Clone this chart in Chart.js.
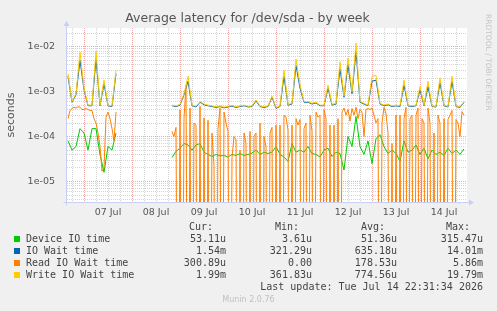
<!DOCTYPE html>
<html>
<head>
<meta charset="utf-8">
<script src="https://cdn.jsdelivr.net/npm/chart.js@4.4.1/dist/chart.umd.min.js"></script>
<style>
  body { margin: 0; background: #f0f0f0; }
  #wrap { position: relative; width: 497px; height: 311px; overflow: hidden; }
  #chart { position: absolute; left: 0; top: 0; }
  .t { position: absolute; white-space: pre; }
  .title { left: 0; width: 495px; top: 10px; text-align: center; font: 12.5px "DejaVu Sans", sans-serif; color: #555; }
  .side { right: 4px; top: 14px; writing-mode: vertical-rl; font: 7.5px "DejaVu Sans", sans-serif; color: #c4c4c4; }
  .leg { font: 10px "DejaVu Sans Mono", monospace; color: #444; line-height: 12px; }
  .sq { position: absolute; width: 6px; height: 6px; left: 14px; }
  .munin { left: 0; width: 497px; text-align: center; top: 295px; font: 8px "DejaVu Sans", sans-serif; color: #c0c0c0; }
</style>
</head>
<body>
<div id="wrap">
  <canvas id="chart" width="497" height="311"></canvas>
  <div class="t title">Average latency for /dev/sda - by week</div>
  <div class="t side">RRDTOOL / TOBI OETIKER</div>
  <div id="legend"></div>
  <div class="t munin">Munin 2.0.76</div>
</div>
<script>
// hours since 06 Jul 00:00; device/wait series every 2 h, read series every 1 h
const hours = Array.from({ length: 100 }, (_, i) => 16 + 2 * i);
const readHours = Array.from({ length: 199 }, (_, i) => 16 + i);

const seriesNames = ['Device IO time', 'IO Wait time', 'Read IO Wait time', 'Write IO Wait time'];
const seriesColors = ['#00cc00', '#0066b3', '#ff8000', '#ffcc00'];

const gap = Array(13).fill(null);
const readGap = Array(27).fill(null);

const deviceIO = [
    8e-5, 5e-5, 6e-5, 1.5e-4, 1.2e-4, 5e-5, 1.5e-4, 1.5e-4, 4e-5, 1.6e-5, 6e-5, 5e-5, 1.2e-4,
    ...gap,
    3.4e-5, 4.7e-5, 5.5e-5, 7e-5, 6.5e-5, 5e-5, 6.5e-5, 7e-5, 4.5e-5, 4e-5, 3.6e-5, 4e-5,
    3.7e-5, 3.8e-5, 3.5e-5, 4e-5, 3.8e-5, 4.2e-5, 3.8e-5, 4e-5, 4.3e-5, 5e-5, 4e-5, 4.5e-5,
    4.2e-5, 4.5e-5, 6e-5, 4e-5, 3.5e-5, 2.8e-5, 7e-5, 4.5e-5, 5e-5, 4.5e-5, 6e-5, 4.2e-5, 4e-5,
    3.5e-5, 5e-5, 5.5e-5, 3.6e-5, 4.5e-5, 4.2e-5, 1.8e-5, 1e-4, 6e-5, 2.8e-4, 6e-5, 4e-5,
    8e-5, 2.5e-5, 9e-5, 1.1e-4, 6e-5, 4.2e-5, 5e-5, 4.2e-5, 2.8e-5, 8e-5, 4.5e-5, 5e-5, 6.5e-5,
    4e-5, 5.5e-5, 3.2e-5, 5e-5, 4e-5, 4.5e-5, 3.8e-5, 5.5e-5, 4.2e-5, 5e-5, 4e-5, 5.3e-5
];

const ioWait = [
    2.2e-3, 5.8e-4, 8.5e-4, 5e-3, 1.1e-3, 4.85e-4, 4.85e-4, 5.5e-3, 4.85e-4, 1.5e-3, 4.85e-4, 4.65e-4, 2.5e-3,
    ...gap,
    4.85e-4, 4.65e-4, 5e-4, 8.5e-4, 1.7e-3, 4.85e-4, 4.55e-4, 5.8e-4, 5.1e-4, 4.85e-4, 4.65e-4, 4.45e-4,
    4.65e-4, 4.35e-4, 4.55e-4, 4.75e-4, 4.45e-4, 4.65e-4, 4.85e-4, 4.55e-4, 4.65e-4, 6.2e-4, 4.65e-4, 4.45e-4,
    4.65e-4, 7.5e-4, 4.25e-4, 4.65e-4, 2.2e-3, 5e-4, 5.3e-4, 3.8e-3, 1.2e-3, 5.8e-4, 5.8e-4, 5.3e-4, 5.6e-4,
    4.85e-4, 4.85e-4, 1.2e-3, 5e-4, 5.3e-4, 3.2e-3, 7.5e-4, 4e-3, 9e-4, 8e-3, 5.8e-4, 5.3e-4,
    4.85e-4, 1.7e-3, 1.8e-3, 5.3e-4, 4.85e-4, 5.1e-4, 4.65e-4, 4.85e-4, 4.65e-4, 1.4e-3, 4.85e-4, 4.65e-4, 4.85e-4,
    1.1e-3, 4.85e-4, 1.3e-3, 4.65e-4, 4.55e-4, 1.6e-3, 4.85e-4, 4.55e-4, 1.7e-3, 4.65e-4, 4.45e-4, 5.8e-4
];

// hourly; 0 = no read wait in that interval (drawn down through the bottom edge)
const readIO = [
    2.5e-4, 3.8e-4, 4.2e-4, 4.5e-4, 4.3e-4, 4.6e-4, 4.5e-4, 4e-4, 4e-4, 4.2e-4, 4e-4, 3.8e-4, 3.8e-4,
    2.5e-4, 2e-4, 1.2e-4, 6e-5, 1.7e-5, 2e-5, 2.7e-4, 3.5e-4, 2.5e-4, 1.5e-4, 8e-5, 3.5e-4,
    ...readGap,
    1.3e-4, 1e-4, 1.6e-4, 0, 3.9e-4, 0, 2.5e-4, 1.4e-3, 0, 4.3e-4,
    0, 2e-4, 1.8e-4, 0, 4.7e-4, 0, 2.6e-4, 0, 2.3e-4, 0,
    1.2e-4, 2.3e-5, 0, 1.5e-4, 4.3e-4, 0, 3.5e-4, 2e-4, 1.3e-4, 0,
    3.4e-5, 1e-4, 8.5e-5, 0, 5e-5, 0, 1.2e-4, 7e-5, 0, 1.3e-4,
    0, 1e-4, 1.2e-4, 0, 2e-4, 0, 1e-4,
    6e-5, 0, 1.2e-4, 1.6e-4, 0, 1.8e-4, 0, 1.8e-4, 0, 3e-4,
    2.7e-4, 1.4e-4, 0, 1.8e-4, 0, 2.5e-4, 1.8e-4, 2.4e-4, 0, 1.5e-4,
    2e-4, 0, 3e-4, 1.3e-4, 0, 3.5e-4, 2.7e-4, 3e-4, 0, 4e-4,
    2.5e-4, 0, 1.8e-4, 0, 1.8e-4, 0, 2.5e-4, 0, 3.5e-4, 4.3e-4,
    3e-4, 4e-4, 2.2e-4, 4.2e-4, 3e-4, 4.5e-4, 2.5e-4, 4e-4, 3.5e-4, 1e-4,
    4e-4, 4.2e-4, 4e-4, 4.3e-4, 3e-4, 2e-4, 2.5e-4, 0, 2e-4, 4.5e-4,
    3.2e-4, 1.2e-4, 0, 7e-5, 0, 3e-4, 0, 3e-4, 0, 2.5e-4,
    4.5e-4, 0, 2.5e-4, 3e-4, 0, 3e-4, 4.3e-4, 0, 2.5e-4, 2e-4,
    0, 4.3e-4, 2e-4, 0, 1.2e-4, 0, 3e-4, 2e-4, 0, 2.5e-4,
    0, 2.4e-4, 3e-4, 3.8e-4, 0, 2.4e-4, 2e-4, 1e-4, 3.6e-4, 3e-4
];

const writeIO = [
    2.5e-3, 6e-4, 9e-4, 7.5e-3, 1.2e-3, 5e-4, 5e-4, 8e-3, 5e-4, 1.8e-3, 5e-4, 4.8e-4, 3e-3,
    ...gap,
    5e-4, 4.8e-4, 5.2e-4, 9e-4, 2.2e-3, 5e-4, 4.7e-4, 6e-4, 5.3e-4, 5e-4, 4.8e-4, 4.6e-4,
    4.8e-4, 4.5e-4, 4.7e-4, 4.9e-4, 4.6e-4, 4.8e-4, 5e-4, 4.7e-4, 4.8e-4, 6.5e-4, 4.8e-4, 4.6e-4,
    4.8e-4, 8e-4, 4.4e-4, 4.8e-4, 3e-3, 5.2e-4, 5.5e-4, 5.3e-3, 1.4e-3, 6e-4, 6e-4, 5.5e-4, 5.8e-4,
    5e-4, 5e-4, 1.4e-3, 5.2e-4, 5.5e-4, 4.6e-3, 8e-4, 5.6e-3, 1e-3, 1.2e-2, 6e-4, 5.5e-4,
    5e-4, 2.2e-3, 2.3e-3, 5.5e-4, 5e-4, 5.3e-4, 4.8e-4, 5e-4, 4.8e-4, 1.8e-3, 5e-4, 4.8e-4, 5e-4,
    1.3e-3, 5e-4, 1.7e-3, 4.8e-4, 4.7e-4, 2e-3, 5e-4, 4.7e-4, 2.2e-3, 4.8e-4, 4.6e-4, 6e-4
];

// legend table (cur, min, avg, max)
const legendCur = ['53.11u', '1.54m', '300.89u', '1.99m'];
const legendMin = ['3.61u', '321.29u', '0.00', '361.83u'];
const legendAvg = ['51.36u', '635.18u', '178.53u', '774.56u'];
const legendMax = ['315.47u', '14.01m', '5.86m', '19.79m'];
const lastUpdate = 'Last update: Tue Jul 14 22:31:34 2026';

// axis ticks
const yDecades = [1e-5, 1e-4, 1e-3, 1e-2];
const yTickLabels = ['1e-05', '1e-04', '1e-03', '1e-02'];
const xDayNoon = [36, 60, 84, 108, 132, 156, 180, 204];
const xDayLabels = ['07 Jul', '08 Jul', '09 Jul', '10 Jul', '11 Jul', '12 Jul', '13 Jul', '14 Jul'];

const MAJOR = 'rgba(230, 110, 110, 0.6)';
const MINOR = 'rgba(160, 160, 160, 0.45)';

function isDecade(v) {
    return yDecades.some(d => Math.abs(v / d - 1) < 1e-6);
}

function buildLegend() {
    const box = document.getElementById('legend');
    let html = '';
    const heads = [['Cur:', 213], ['Min:', 299], ['Avg:', 385], ['Max:', 470]];
    heads.forEach(h => {
        html += `<div class="t leg" style="right:${497 - h[1]}px;top:221px">${h[0]}</div>`;
    });
    seriesNames.forEach((name, i) => {
        const top = 233 + i * 12;
        html += `<div class="sq" style="top:${top + 3}px;background:${seriesColors[i]}"></div>`;
        html += `<div class="t leg" style="left:26px;top:${top}px">${name}</div>`;
        [[legendCur, 226], [legendMin, 312], [legendAvg, 397], [legendMax, 483]].forEach(c => {
            html += `<div class="t leg" style="right:${497 - c[1]}px;top:${top}px">${c[0][i]}</div>`;
        });
    });
    html += `<div class="t leg" style="right:${497 - 483}px;top:281px">${lastUpdate}</div>`;
    box.innerHTML = html;
}

const framePlugin = {
    id: 'frame',
    beforeDraw(chart) {
        const { ctx, chartArea: a } = chart;
        ctx.save();
        ctx.fillStyle = '#ffffff';
        ctx.fillRect(a.left, a.top, a.right - a.left, a.bottom - a.top);
        ctx.restore();
    },
    afterDraw(chart) {
        const { ctx, chartArea: a } = chart;
        const x0 = Math.round(a.left) - 0.5;
        const y0 = Math.round(a.bottom) + 0.5;
        ctx.save();
        ctx.strokeStyle = '#c8cff2';
        ctx.fillStyle = '#c8cff2';
        ctx.lineWidth = 1;
        ctx.beginPath();
        ctx.moveTo(x0, y0 + 3);
        ctx.lineTo(x0, a.top - 3);
        ctx.moveTo(x0 - 3, y0);
        ctx.lineTo(a.right + 3, y0);
        ctx.stroke();
        ctx.beginPath();
        ctx.moveTo(x0 - 3, a.top - 2);
        ctx.lineTo(x0, a.top - 7);
        ctx.lineTo(x0 + 3, a.top - 2);
        ctx.closePath();
        ctx.fill();
        ctx.beginPath();
        ctx.moveTo(a.right + 2, y0 - 3);
        ctx.lineTo(a.right + 7, y0);
        ctx.lineTo(a.right + 2, y0 + 3);
        ctx.closePath();
        ctx.fill();
        ctx.restore();
    }
};

function lineSet(label, data, color, order) {
    return {
        label: label,
        data: data,
        borderColor: color,
        backgroundColor: color,
        borderWidth: 1,
        pointRadius: 0,
        tension: 0,
        spanGaps: false,
        order: order
    };
}

buildLegend();

const readPoints = readHours.map((h, i) => ({ x: h, y: readIO[i] === 0 ? 1e-12 : readIO[i] }));

new Chart(document.getElementById('chart'), {
    type: 'line',
    data: {
        labels: hours,
        datasets: [
            lineSet(seriesNames[0], deviceIO, seriesColors[0], 3),
            lineSet(seriesNames[1], ioWait, seriesColors[1], 2),
            lineSet(seriesNames[2], readPoints, seriesColors[2], 1),
            lineSet(seriesNames[3], writeIO, seriesColors[3], 0)
        ]
    },
    options: {
        responsive: false,
        animation: false,
        events: [],
        layout: { padding: { top: 28, right: 30, left: 0, bottom: 0 } },
        plugins: {
            legend: { display: false },
            title: { display: false },
            tooltip: { enabled: false }
        },
        scales: {
            x: {
                type: 'linear',
                min: 15.5,
                max: 215.5,
                afterFit: scale => { scale.height = 109; },
                afterBuildTicks: scale => {
                    const t = [];
                    for (let h = 18; h <= 214; h += 6) t.push({ value: h });
                    scale.ticks = t;
                },
                grid: {
                    drawTicks: false,
                    color: ctx => (ctx.tick && ctx.tick.value % 24 === 0) ? MAJOR : MINOR
                },
                border: { display: false, dash: [1, 1] },
                ticks: {
                    autoSkip: false,
                    maxRotation: 0,
                    padding: 5,
                    color: '#555',
                    font: { family: 'DejaVu Sans', size: 9.5 },
                    callback: v => {
                        const i = xDayNoon.indexOf(v);
                        return i >= 0 ? xDayLabels[i] : '';
                    }
                }
            },
            y: {
                type: 'logarithmic',
                min: 3.5e-6,
                max: 2.6e-2,
                afterFit: scale => { scale.width = 67; },
                afterBuildTicks: scale => {
                    const t = [];
                    for (let e = -6; e <= -2; e++) {
                        for (let k = 1; k <= 9; k++) {
                            const v = k * Math.pow(10, e);
                            if (v >= 3.5e-6 && v <= 2.6e-2) t.push({ value: v });
                        }
                    }
                    scale.ticks = t;
                },
                grid: {
                    drawTicks: false,
                    color: ctx => (ctx.tick && isDecade(ctx.tick.value)) ? MAJOR : MINOR
                },
                border: { display: false, dash: [1, 1] },
                title: {
                    display: true,
                    text: 'seconds',
                    color: '#555',
                    font: { family: 'DejaVu Sans', size: 11 },
                    padding: { top: 5, bottom: 0 }
                },
                ticks: {
                    autoSkip: false,
                    padding: 12,
                    color: '#555',
                    font: { family: 'DejaVu Sans', size: 9.5 },
                    callback: v => {
                        const i = yDecades.findIndex(d => Math.abs(v / d - 1) < 1e-6);
                        return i >= 0 ? yTickLabels[i] : '';
                    }
                }
            }
        }
    },
    plugins: [framePlugin]
});
</script>
</body>
</html>
